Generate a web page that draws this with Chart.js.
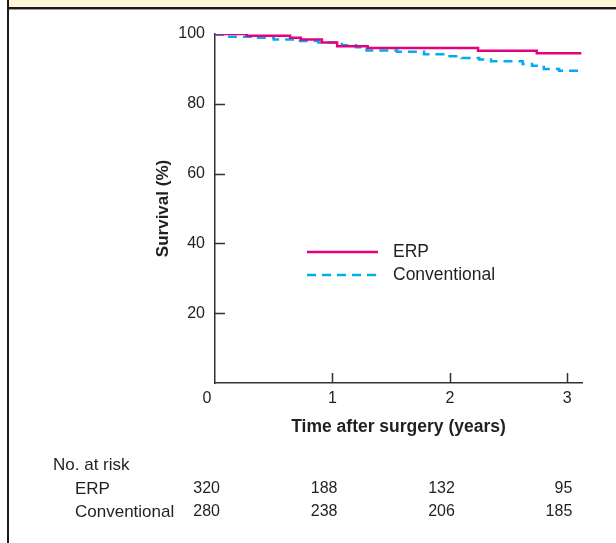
<!DOCTYPE html>
<html>
<head>
<meta charset="utf-8">
<script src="https://cdn.jsdelivr.net/npm/chart.js@4"></script>
<style>
  body { margin: 0; background: #fff; }
  #wrap { position: relative; width: 616px; height: 543px; overflow: hidden; }
  #topBand { position: absolute; left: 8px; top: 0; width: 608px; height: 7px; background: #fdf6d8; }
  #topRule { position: absolute; left: 8px; top: 7px; width: 608px; height: 2px; background: #1a1a1a; border-bottom: 1px solid #9a9a9a; }
  #leftRule { position: absolute; left: 7px; top: 0; width: 2px; height: 543px; background: #1a1a1a; }
  canvas { position: absolute; left: 0; top: 0; }
</style>
</head>
<body>
<div id="wrap">
  <canvas id="kmCanvas" width="616" height="543"></canvas>
  <div id="topBand"></div>
  <div id="topRule"></div>
  <div id="leftRule"></div>
</div>
<script>
const xTicks = [0, 1, 2, 3];
const yTicks = [20, 40, 60, 80, 100];

// step times (years) and survival (%)
const erpTimes = [0, 0.27, 0.64, 0.73, 0.91, 1.04, 1.30, 2.24, 2.74, 3.12];
const erpSurvival = [100, 99.5, 98.9, 98.4, 97.6, 96.5, 96.0, 95.2, 94.5, 94.5];

const convTimes = [0, 0.10, 0.35, 0.50, 0.70, 0.88, 1.08, 1.20, 1.29, 1.55, 1.78, 1.97, 2.10, 2.25, 2.35, 2.62, 2.70, 2.80, 2.93, 3.12];
const convSurvival = [99.8, 99.2, 98.9, 98.4, 98.0, 97.6, 96.8, 96.2, 95.3, 94.9, 94.2, 93.6, 93.1, 92.7, 92.2, 91.4, 90.9, 90.0, 89.5, 89.5];

// numbers at risk table
const riskTimes = [0, 1, 2, 3];
const erpAtRisk = [320, 188, 132, 95];
const convAtRisk = [280, 238, 206, 185];

const textColor = '#231f20';
const fontFamily = '"Liberation Sans", Arial, Helvetica, sans-serif';
Chart.defaults.font.family = fontFamily;
Chart.defaults.font.size = 16;
Chart.defaults.color = textColor;

function toPoints(times, values) {
  return times.map((t, i) => ({ x: t, y: values[i] }));
}

// inward ticks, origin label, legend and risk table
const extras = {
  id: 'extras',
  afterDraw(chart) {
    const ctx = chart.ctx;
    const xs = chart.scales.x, ys = chart.scales.y;
    const area = chart.chartArea;
    ctx.save();

    ctx.strokeStyle = '#333';
    ctx.lineWidth = 1.5;
    ctx.beginPath();
    yTicks.forEach(v => {
      if (v >= 100) return;
      const py = Math.round(ys.getPixelForValue(v)) + 0.5;
      ctx.moveTo(area.left, py);
      ctx.lineTo(area.left + 10, py);
    });
    xTicks.forEach(v => {
      if (v <= 0) return;
      const px = Math.round(xs.getPixelForValue(v)) + 0.5;
      ctx.moveTo(px, area.bottom);
      ctx.lineTo(px, area.bottom - 10);
    });
    ctx.stroke();

    ctx.fillStyle = textColor;
    ctx.textBaseline = 'middle';
    ctx.textAlign = 'center';
    ctx.font = '16px ' + fontFamily;
    ctx.fillText('0', xs.getPixelForValue(0) - 8, area.bottom + 16);

    // legend
    ctx.font = '17.5px ' + fontFamily;
    chart.data.datasets.forEach((ds, i) => {
      const ly = area.top + 218 + i * 23;
      ctx.strokeStyle = ds.borderColor;
      ctx.lineWidth = ds.borderWidth;
      ctx.setLineDash(ds.borderDash || []);
      ctx.beginPath();
      ctx.moveTo(307, ly);
      ctx.lineTo(378, ly);
      ctx.stroke();
      ctx.setLineDash([]);
      ctx.textAlign = 'left';
      ctx.fillText(ds.label, 393, ly);
    });

    // numbers at risk
    ctx.textAlign = 'left';
    ctx.font = '17px ' + fontFamily;
    ctx.fillText('No. at risk', 53, 465);
    [erpAtRisk, convAtRisk].forEach((vals, r) => {
      const ty = 489 + r * 23;
      ctx.textAlign = 'left';
      ctx.font = '17px ' + fontFamily;
      ctx.fillText(chart.data.datasets[r].label, 75, ty);
      ctx.textAlign = 'right';
      ctx.font = '16px ' + fontFamily;
      vals.forEach((n, j) => ctx.fillText(String(n), xs.getPixelForValue(riskTimes[j]) + 5, ty));
    });
    ctx.restore();
  }
};

const ctx = document.getElementById('kmCanvas').getContext('2d');
const kmChart = new Chart(ctx, {
  type: 'line',
  data: {
    datasets: [{
      label: 'ERP',
      data: toPoints(erpTimes, erpSurvival),
      borderColor: '#e6007e',
      borderWidth: 2.5,
      stepped: true,
      pointRadius: 0,
      fill: false
    }, {
      label: 'Conventional',
      data: toPoints(convTimes, convSurvival),
      borderColor: '#00aeef',
      borderWidth: 2.5,
      borderDash: [9, 6],
      stepped: true,
      pointRadius: 0,
      fill: false
    }]
  },
  options: {
    responsive: false,
    animation: false,
    layout: { padding: { left: 150, top: 34, right: 34, bottom: 100 } },
    plugins: { legend: { display: false }, tooltip: { enabled: false } },
    scales: {
      x: {
        type: 'linear',
        min: 0,
        max: 3.125,
        afterBuildTicks: s => { s.ticks = xTicks.map(v => ({ value: v })); },
        afterFit: s => { s.height = 60; },
        grid: { display: false, drawTicks: false },
        border: { display: true, color: '#333', width: 1.5 },
        ticks: { callback: v => (v === 0 ? '' : v), padding: 6, maxRotation: 0 },
        title: {
          display: true,
          text: 'Time after surgery (years)',
          font: { size: 17.5, weight: 'bold' },
          padding: { top: 4, bottom: 5 }
        }
      },
      y: {
        type: 'linear',
        min: 0,
        max: 100,
        afterBuildTicks: s => { s.ticks = yTicks.map(v => ({ value: v })); },
        afterFit: s => { s.width = 65; },
        grid: { display: false, drawTicks: false },
        border: { display: true, color: '#333', width: 1.5 },
        ticks: { padding: 10 },
        title: {
          display: true,
          text: 'Survival (%)',
          font: { size: 17, weight: 'bold' },
          padding: { top: 3, bottom: 4 }
        }
      }
    }
  },
  plugins: [extras]
});
</script>
</body>
</html>
